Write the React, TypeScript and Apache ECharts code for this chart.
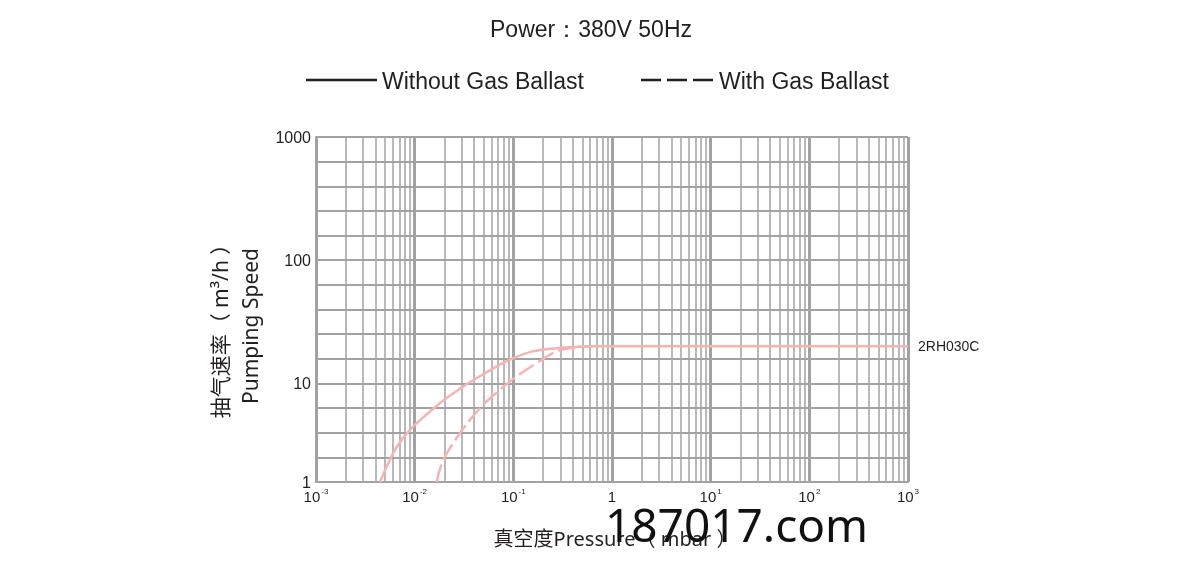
import React, { useEffect, useRef } from 'react';
import * as echarts from 'echarts';

// pressure (mbar) / pumping speed (m3/h)
const solidPressure = [0.00445, 0.0052, 0.0066, 0.009, 0.018, 0.031, 0.0515, 0.0925, 0.158, 0.296, 0.65, 2, 10, 100, 1000];
const solidSpeed = [1, 1.43, 2.28, 3.4, 6.3, 9.3, 12.1, 15.6, 18.2, 19.4, 20, 20, 20, 20, 20];
const dashedPressure = [0.0167, 0.0195, 0.0288, 0.0459, 0.0731, 0.108, 0.172, 0.275, 0.437, 0.65];
const dashedSpeed = [1, 1.67, 3.12, 5.6, 8.6, 11.4, 14.6, 18.2, 19.7, 20];

const yLabelPos = [0, 4, 9, 14];
const yLabelText = ['1', '10', '100', '1000'];

const TEXT = '#231f20';
const GRID = '#a2a2a2';
const CURVE = '#f4b4b4';
const ARIAL = "'Liberation Sans', Arial, sans-serif";
const NOTO = "'Noto Sans', 'Noto Sans CJK SC', sans-serif";

// the printed speed scale: 4 divisions for 1-10, 5 for each decade above
function toAxis(s: number) {
  const l = Math.log10(s);
  return l <= 1 ? 4 * l : 4 + 5 * (l - 1);
}

const App: React.FC = () => {
  const chartRef = useRef<HTMLDivElement>(null);

  useEffect(() => {
    if (!chartRef.current) return;
    const chart = echarts.init(chartRef.current, undefined, { renderer: 'svg' });

    chart.setOption({
      animation: false,
      grid: { left: 316, right: 292, top: 137, bottom: 87 },
      xAxis: {
        type: 'log',
        logBase: 10,
        min: 0.001,
        max: 1000,
        axisLine: { show: true, lineStyle: { color: GRID, width: 2 } },
        axisTick: { show: false },
        minorTick: { show: false, splitNumber: 9 },
        splitLine: { show: true, lineStyle: { color: GRID, width: 3 } },
        minorSplitLine: { show: true, lineStyle: { color: GRID, width: 1.5 } },
        axisLabel: {
          margin: 5,
          formatter: (v: number) => {
            const e = Math.round(Math.log10(v));
            return e === 0 ? '{b|1}' : `{b|10}{s|${e}}`;
          },
          rich: {
            b: { fontFamily: ARIAL, fontSize: 15, color: TEXT, lineHeight: 18 },
            s: { fontFamily: ARIAL, fontSize: 8, color: TEXT, verticalAlign: 'top', lineHeight: 9, padding: [0, 0, 0, 1] },
          },
        },
      },
      yAxis: {
        type: 'value',
        min: 0,
        max: 14,
        interval: 1,
        axisLine: { show: true, lineStyle: { color: GRID, width: 2 } },
        axisTick: { show: false },
        splitLine: { show: true, lineStyle: { color: GRID, width: 2 } },
        axisLabel: {
          margin: 5,
          fontFamily: ARIAL,
          fontSize: 16,
          color: TEXT,
          formatter: (v: number) => {
            const i = yLabelPos.indexOf(v);
            return i >= 0 ? yLabelText[i] : '';
          },
        },
      },
      series: [
        {
          name: 'Without Gas Ballast',
          type: 'line',
          z: 3,
          smooth: 0.4,
          showSymbol: false,
          lineStyle: { color: CURVE, width: 2.5 },
          data: solidPressure.map((p, i) => [p, toAxis(solidSpeed[i])]),
          endLabel: {
            show: true,
            formatter: '2RH030C',
            distance: 10,
            fontFamily: ARIAL,
            fontSize: 14,
            color: TEXT,
          },
        },
        {
          name: 'With Gas Ballast',
          type: 'line',
          z: 3,
          smooth: 0.4,
          showSymbol: false,
          lineStyle: { color: CURVE, width: 2.5, type: [18, 5] },
          data: dashedPressure.map((p, i) => [p, toAxis(dashedSpeed[i])]),
        },
      ],
      graphic: [
        {
          type: 'text',
          x: 591,
          y: 29,
          style: { text: 'Power：380V 50Hz', fontFamily: ARIAL, fontSize: 23, fill: TEXT, align: 'center', verticalAlign: 'middle' },
        },
        { type: 'line', shape: { x1: 306, y1: 80, x2: 377, y2: 80 }, style: { stroke: TEXT, lineWidth: 2.5 } },
        {
          type: 'text',
          x: 382,
          y: 81,
          style: { text: 'Without Gas Ballast', fontFamily: ARIAL, fontSize: 23, fill: TEXT, verticalAlign: 'middle' },
        },
        { type: 'line', shape: { x1: 641, y1: 80, x2: 713, y2: 80 }, style: { stroke: TEXT, lineWidth: 2.5, lineDash: [20, 6] } },
        {
          type: 'text',
          x: 719,
          y: 81,
          style: { text: 'With Gas Ballast', fontFamily: ARIAL, fontSize: 23, fill: TEXT, verticalAlign: 'middle' },
        },
        {
          type: 'text',
          x: 235,
          y: 326,
          rotation: Math.PI / 2,
          style: {
            text: '抽气速率（ m³/h ）\nPumping Speed',
            fontFamily: NOTO,
            fontSize: 21,
            lineHeight: 30,
            fill: TEXT,
            align: 'center',
            verticalAlign: 'middle',
          },
        },
        {
          type: 'text',
          x: 615,
          y: 538,
          style: { text: '真空度Pressure（ mbar ）', fontFamily: NOTO, fontSize: 20, fill: TEXT, align: 'center', verticalAlign: 'middle' },
        },
        {
          type: 'text',
          x: 605,
          y: 524,
          z: 10,
          style: { text: '187017.com', fontFamily: NOTO, fontSize: 46, lineHeight: 34, fill: '#111', verticalAlign: 'middle' },
        },
      ],
    });

    return () => chart.dispose();
  }, []);

  return <div ref={chartRef} style={{ position: 'fixed', left: 0, top: 0, width: 1200, height: 569 }} />;
};

export default App;
